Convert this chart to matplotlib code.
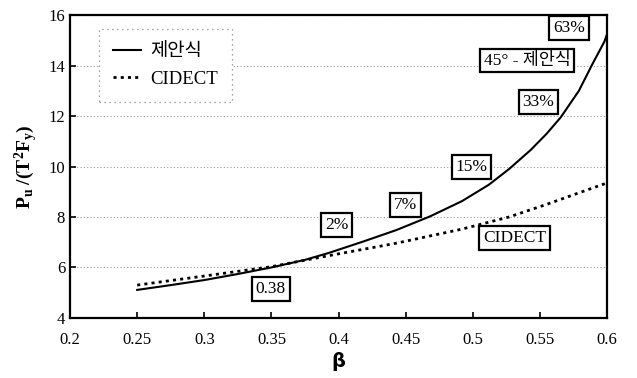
import matplotlib
matplotlib.use("Agg")
from matplotlib import pyplot as plt

# 제안식 곡선
beta_prop = [0.25, 0.275, 0.30, 0.325, 0.35, 0.375, 0.393, 0.418, 0.443, 0.468, 0.492,
             0.512, 0.527, 0.543, 0.555, 0.5655, 0.579, 0.589, 0.598, 0.60]
pu_prop = [5.11, 5.30, 5.50, 5.74, 6.00, 6.30, 6.58, 7.02, 7.48, 8.02, 8.63,
           9.28, 9.90, 10.65, 11.30, 11.95, 13.0, 14.05, 14.95, 15.25]
# CIDECT 곡선
beta_cid = [0.25, 0.30, 0.35, 0.393, 0.443, 0.492, 0.527, 0.555, 0.584, 0.60]
pu_cid = [5.30, 5.66, 6.03, 6.47, 6.96, 7.52, 8.00, 8.50, 9.05, 9.35]

# 박스 라벨
labels = ["63%", "45° - 제안식", "33%", "15%", "7%", "2%", "CIDECT", "0.38"]
label_x = [0.5717, 0.5405, 0.549, 0.499, 0.450, 0.3985, 0.531, 0.3495]
label_y = [15.48, 14.20, 12.55, 9.98, 8.48, 7.68, 7.17, 5.15]

xticks = [0.2, 0.25, 0.3, 0.35, 0.4, 0.45, 0.5, 0.55, 0.6]
yticks = [4, 6, 8, 10, 12, 14, 16]

plt.rcParams['font.family'] = ['Liberation Serif', 'Noto Sans CJK KR']
plt.rcParams['mathtext.fontset'] = 'custom'
plt.rcParams['mathtext.rm'] = 'Liberation Serif'
plt.rcParams['mathtext.bf'] = 'Liberation Serif:bold'

fig = plt.figure(figsize=(6.37, 3.78), dpi=100)
ax = fig.add_axes([0.110, 0.159, 0.843, 0.801])

ax.plot(beta_prop, pu_prop, color='black', lw=1.5, label='제안식')
ax.plot(beta_cid, pu_cid, color='black', lw=2.0, ls=(0, (1.1, 1.5)), label='CIDECT')

for t, x, y in zip(labels, label_x, label_y):
    ax.text(x, y, t, ha='center', va='center', fontsize=12.5,
            bbox=dict(boxstyle='square,pad=0.22', fc='white', ec='black', lw=1.6))

ax.set_xlim(0.2, 0.6)
ax.set_ylim(4, 16)
ax.set_xticks(xticks)
ax.set_xticklabels([f"{v:g}" for v in xticks], fontsize=12)
ax.set_yticks(yticks)
ax.set_yticklabels([str(v) for v in yticks], fontsize=12)
ax.tick_params(direction='in', length=4, width=1.2)
ax.tick_params(axis='x', pad=10)
ax.grid(axis='y', color='#999999', ls=(0, (1, 2)), lw=0.8)
for s in ax.spines.values():
    s.set_linewidth(1.6)

ax.set_xlabel('β', fontsize=14, fontweight='bold', family='DejaVu Sans', labelpad=3)
ax.set_ylabel('$\\mathbf{P_u}$ $\\mathbf{/(T^2F_y)}$', fontsize=14, labelpad=6)

leg = ax.legend(loc='upper left', bbox_to_anchor=(0.054, 0.954), borderaxespad=0,
                fontsize=13.5, handlelength=1.5, handletextpad=0.5, labelspacing=0.55,
                borderpad=0.75, fancybox=False, framealpha=1)
leg.get_frame().set_edgecolor('#888888')
leg.get_frame().set_linestyle((0, (1, 3)))
leg.get_frame().set_linewidth(0.9)

fig.savefig('out.png', dpi=100)
